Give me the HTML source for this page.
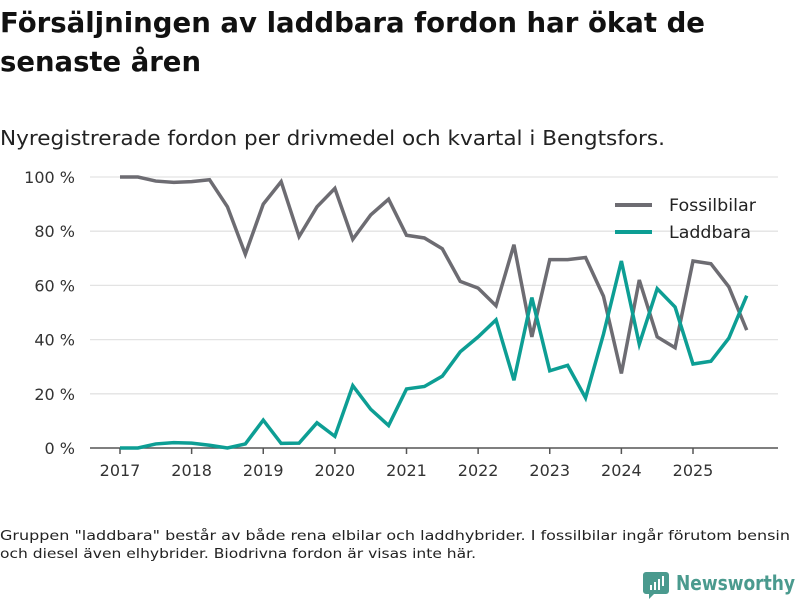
<!DOCTYPE html>
<html><head><meta charset="utf-8"><style>
html,body{margin:0;padding:0;background:#fff;width:800px;height:600px;overflow:hidden}
svg{display:block;font-family:"DejaVu Sans","Liberation Sans",sans-serif}
</style></head><body>
<svg id="chart" width="800" height="600">
<text x="0" y="32" font-size="28" font-weight="bold" fill="#111" textLength="705" lengthAdjust="spacingAndGlyphs">Försäljningen av laddbara fordon har ökat de</text>
<text x="0" y="71" font-size="28" font-weight="bold" fill="#111" textLength="201" lengthAdjust="spacingAndGlyphs">senaste åren</text>
<text x="0" y="145" font-size="20" fill="#222" textLength="665" lengthAdjust="spacingAndGlyphs">Nyregistrerade fordon per drivmedel och kvartal i Bengtsfors.</text>
<g id="grid"></g><g id="axes"></g><g id="lines"></g>
<g>
<line x1="615" y1="205" x2="652" y2="205" stroke="#6d6c72" stroke-width="4"/>
<text x="669" y="211" font-size="17" fill="#222" textLength="87" lengthAdjust="spacingAndGlyphs">Fossilbilar</text>
<line x1="615" y1="232" x2="652" y2="232" stroke="#0d9e94" stroke-width="4"/>
<text x="669" y="238" font-size="17" fill="#222" textLength="82" lengthAdjust="spacingAndGlyphs">Laddbara</text>
</g>
<text x="0" y="540" font-size="13.5" fill="#222" textLength="790" lengthAdjust="spacingAndGlyphs">Gruppen "laddbara" består av både rena elbilar och laddhybrider. I fossilbilar ingår förutom bensin</text>
<text x="0" y="558" font-size="13.5" fill="#222" textLength="476" lengthAdjust="spacingAndGlyphs">och diesel även elhybrider. Biodrivna fordon är visas inte här.</text>
<g>
<path d="M646 572 h20 a3 3 0 0 1 3 3 v16 a3 3 0 0 1 -3 3 h-12 l-5 5 v-5 h-3 a3 3 0 0 1 -3 -3 v-16 a3 3 0 0 1 3 -3z" fill="#4a9a8e"/>
<rect x="650" y="585" width="2" height="5" fill="#fff"/><rect x="654" y="582" width="2" height="8" fill="#fff"/><rect x="658" y="579" width="2" height="11" fill="#fff"/><rect x="662" y="576" width="2" height="10" fill="#fff"/>
<text x="676" y="590" font-size="20" font-weight="bold" fill="#4a9a8e" textLength="119" lengthAdjust="spacingAndGlyphs">Newsworthy</text>
</g>
</svg>
<script>
const years=["2017","2018","2019","2020","2021","2022","2023","2024","2025"];
const yTicks=[0,20,40,60,80,100];
const fossil=[100,100,98.5,98,98.3,99,89,71.5,90,98.3,78,89,95.8,77,86,91.8,78.5,77.5,73.5,61.5,59,52.5,75,41,69.5,69.5,70.3,56,27.5,62,41,37,69,68,59.5,43.5];
const laddbara=[0,0,1.5,2,1.8,1,0,1.5,10.3,1.7,1.8,9.3,4.3,23,14.3,8.3,21.8,22.7,26.5,35.5,41,47.3,25,55.5,28.5,30.5,18.5,42,69,38.3,58.8,52,31,32,40.5,56.2];
const NS="http://www.w3.org/2000/svg";
const x=i=>120+i*(693-120)/32;
const y=v=>448-v*(448-177)/100;
function mk(t,a,p){const e=document.createElementNS(NS,t);for(const k in a)e.setAttribute(k,a[k]);p.appendChild(e);return e;}
const grid=document.getElementById('grid'),axes=document.getElementById('axes'),lines=document.getElementById('lines');
yTicks.forEach(v=>{
 if(v>0){const g=mk('line',{x1:90,x2:778,y1:y(v),y2:y(v),stroke:'#e3e3e3','stroke-width':1.3},grid);
 
 }
 const t=mk('text',{x:75,y:y(v)+6,'font-size':16,fill:'#333','text-anchor':'end'},axes);t.textContent=v+' %';
 
 
});
const base=mk('line',{x1:90,x2:778,y1:448,y2:448,stroke:'#555','stroke-width':1.5},axes);


years.forEach((yr,k)=>{
 const xx=x(k*4);
 mk('line',{x1:xx,x2:xx,y1:448,y2:454,stroke:'#555','stroke-width':1.5},axes);
 const t=mk('text',{x:xx,y:476,'font-size':16,fill:'#333','text-anchor':'middle'},axes);t.textContent=yr;
 
 
});
function line(arr,col,name){
 const p=mk('polyline',{points:arr.map((v,i)=>x(i)+','+y(v)).join(' '),fill:'none',stroke:col,'stroke-width':3.5,'stroke-linejoin':'miter'},lines);
 
 
}
line(fossil,'#6d6c72','line-fossilbilar');
line(laddbara,'#0d9e94','line-laddbara');
</script>
</body></html>
